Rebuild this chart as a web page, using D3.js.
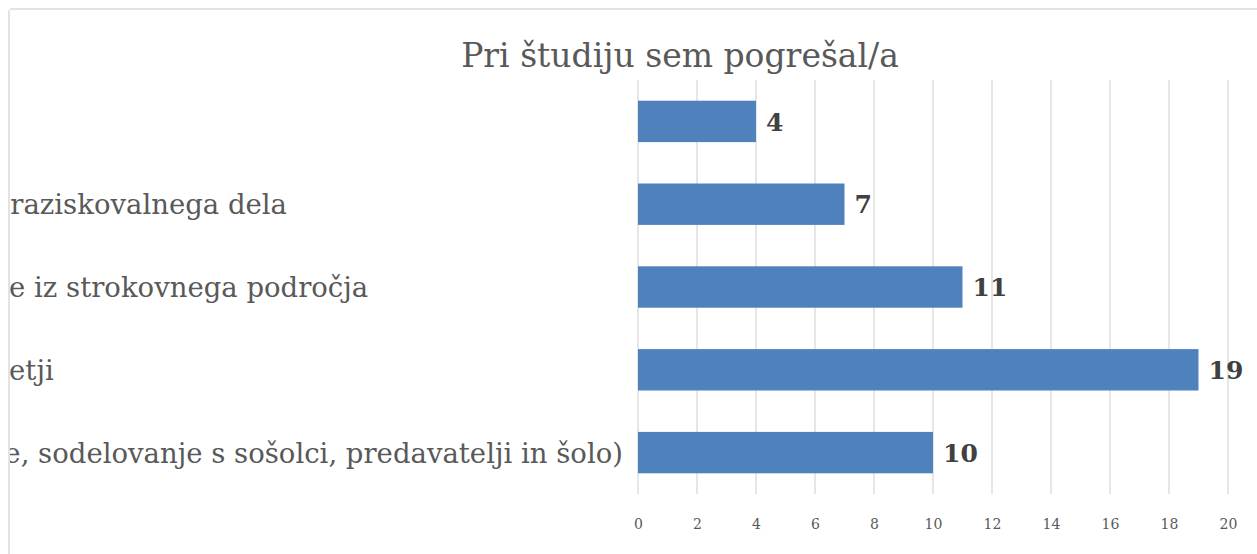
<!DOCTYPE html>
<html>
<head>
<meta charset="utf-8">
<script src="https://cdn.jsdelivr.net/npm/d3@7"></script>
<style>
  body { margin: 0; background: #fff; }
  svg { display: block; }
</style>
</head>
<body>
<svg id="chart" width="1257" height="554"></svg>
<script>
// chart data (top to bottom); the labels are the last wrapped line of each category
const title = 'Pri študiju sem pogrešal/a';
const categories = [
    '',
    'več timskega dela in raziskovalnega dela',
    'Več strokovnjakov in prakse iz strokovnega področja',
    'podjetji',
    'Več možnosti druženja, povezovanja (dogodke, sodelovanje s sošolci, predavatelji in šolo)'
];
const values = [4, 7, 11, 19, 10];
const xTicks = [0, 2, 4, 6, 8, 10, 12, 14, 16, 18, 20];

(function () {

    const svg = d3.select('#chart'),
        font = '"DejaVu Serif", serif',
        frameLeft = 10, frameTop = 10,
        plot = { left: 638, right: 1228, top: 80, bottom: 494 };

    // frame edges that are still in view
    svg.append('line')
        .attr('x1', frameLeft - 1).attr('x2', frameLeft - 1)
        .attr('y1', frameTop).attr('y2', 554)
        .attr('stroke', '#e3e3e3').attr('stroke-width', 2);
    svg.append('line')
        .attr('x1', frameLeft).attr('x2', 1257)
        .attr('y1', frameTop - 1).attr('y2', frameTop - 1)
        .attr('stroke', '#e3e3e3').attr('stroke-width', 2);

    svg.append('clipPath').attr('id', 'frame')
        .append('rect')
        .attr('x', frameLeft).attr('y', frameTop)
        .attr('width', 1257 - frameLeft).attr('height', 554 - frameTop);

    const g = svg.append('g').attr('clip-path', 'url(#frame)');

    const x = d3.scaleLinear().domain([0, 20]).range([plot.left, plot.right]);
    const y = d3.scaleBand().domain(d3.range(categories.length))
        .range([plot.top, plot.bottom]).paddingInner(0.5).paddingOuter(0.25);

    // title
    g.append('text')
        .attr('x', 680).attr('y', 67)
        .attr('text-anchor', 'middle')
        .style('font-family', font)
        .style('font-size', '33px')
        .attr('fill', '#595959')
        .text(title);

    // vertical gridlines
    g.append('g').selectAll('line')
        .data(xTicks)
        .enter()
        .append('line')
        .attr('x1', d => x(d)).attr('x2', d => x(d))
        .attr('y1', plot.top).attr('y2', plot.bottom)
        .attr('stroke', '#d9d9d9').attr('stroke-width', 1.3);

    // x axis labels
    const xAxis = d3.axisBottom(x).tickValues(xTicks).tickSize(0).tickPadding(0);
    const ax = g.append('g')
        .attr('transform', 'translate(0,' + (plot.bottom + 35) + ')')
        .call(xAxis);
    ax.select('.domain').remove();
    ax.selectAll('text')
        .attr('dy', 0)
        .style('font-family', font)
        .style('font-size', '14px')
        .attr('fill', '#595959');

    // bars
    g.append('g').selectAll('rect')
        .data(values)
        .enter()
        .append('rect')
        .attr('x', x(0))
        .attr('y', (d, i) => y(i))
        .attr('width', d => x(d) - x(0))
        .attr('height', y.bandwidth())
        .attr('fill', '#4f81bd');

    // value labels
    g.append('g').selectAll('text')
        .data(values)
        .enter()
        .append('text')
        .attr('x', d => x(d) + 10)
        .attr('y', (d, i) => y(i) + y.bandwidth() / 2)
        .attr('dy', '0.37em')
        .style('font-family', font)
        .style('font-size', '25px')
        .style('font-weight', 'bold')
        .attr('fill', '#404040')
        .text(d => d);

    // category labels: centred in a label area that runs off the left of the frame
    const labels = g.append('g').selectAll('text')
        .data(categories)
        .enter()
        .append('text')
        .attr('y', (d, i) => y(i) + y.bandwidth() / 2)
        .attr('dy', '0.36em')
        .attr('text-anchor', 'middle')
        .style('font-family', font)
        .style('font-size', '27.5px')
        .attr('fill', '#595959')
        .text(d => d);

    const widest = d3.max(labels.nodes(), n => n.getComputedTextLength());
    labels.attr('x', plot.left - 15 - widest / 2);

}());
</script>
</body>
</html>
